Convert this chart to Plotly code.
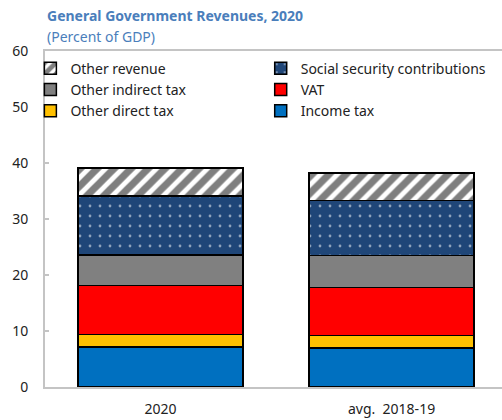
import plotly.graph_objects as go

# Categories on the x axis
categories = ["2020", "avg.  2018-19"]

# Revenue components, percent of GDP (stacked bottom to top)
income_tax = [7.1, 7.0]
other_direct_tax = [2.3, 2.2]
vat = [8.7, 8.6]
other_indirect_tax = [5.5, 5.7]
social_security = [10.5, 9.8]
other_revenue = [5.0, 4.9]

# (name, values, marker style, legend column, rank within column)
series = [
    ("Income tax", income_tax, dict(color="#0070C0"), "legend2", 3),
    ("Other direct tax", other_direct_tax, dict(color="#FFC000"), "legend", 3),
    ("VAT", vat, dict(color="#FF0000"), "legend2", 2),
    ("Other indirect tax", other_indirect_tax, dict(color="#808080"), "legend", 2),
    ("Social security contributions", social_security,
     dict(color="#1F4678", pattern=dict(shape=".", fgcolor="#FFFFFF",
                                        bgcolor="#1F4678", size=10, solidity=0.06)),
     "legend2", 1),
    ("Other revenue", other_revenue,
     dict(color="#FFFFFF", pattern=dict(shape="/", fgcolor="#000000",
                                        bgcolor="#FFFFFF", size=12, solidity=0.6)),
     "legend", 1),
]

FONT = "Noto Sans"
TITLE_BLUE = "#4A7EBB"
AXIS_GREY = "#C4C4C4"

fig = go.Figure()
for name, vals, mk, leg, rank in series:
    fig.add_trace(go.Bar(
        x=categories, y=vals, name=name, legend=leg, legendrank=rank,
        marker=dict(**mk, line=dict(color="#000000", width=1.5)),
        width=0.714,
    ))

legend_style = dict(
    orientation="v", y=0.995, xanchor="left", yanchor="top",
    traceorder="normal", font=dict(family=FONT, size=14, color="#222222"),
    bgcolor="rgba(0,0,0,0)", tracegroupgap=0, itemwidth=30,
)

fig.update_layout(
    barmode="stack",
    width=502, height=420,
    margin=dict(l=45, r=0, t=51, b=33),
    plot_bgcolor="#FFFFFF", paper_bgcolor="#FFFFFF",
    font=dict(family=FONT, size=14, color="#222222"),
    showlegend=True,
    legend=dict(x=-0.032, **legend_style),
    legend2=dict(x=0.472, **legend_style),
    xaxis=dict(
        range=[-0.5, 1.478], showline=True, linecolor=AXIS_GREY, linewidth=2,
        mirror=True, ticks="", showgrid=False, tickfont=dict(size=14),
        ticklabelstandoff=8,
    ),
    yaxis=dict(
        range=[0, 60], dtick=10, showline=True, linecolor=AXIS_GREY, linewidth=2,
        ticks="inside", ticklen=4, tickcolor=AXIS_GREY, tickwidth=1.5,
        showgrid=False, zeroline=False, tickfont=dict(size=14),
        ticklabelstandoff=12,
    ),
    annotations=[
        dict(text="<b>General Government Revenues, 2020</b>", xref="paper", yref="paper",
             x=0, y=1.107, xanchor="left", yanchor="middle", showarrow=False,
             font=dict(family=FONT, size=14, color=TITLE_BLUE)),
        dict(text="(Percent of GDP)", xref="paper", yref="paper",
             x=0, y=1.042, xanchor="left", yanchor="middle", showarrow=False,
             font=dict(family=FONT, size=14, color=TITLE_BLUE)),
    ],
)

fig.write_html("out.html")
